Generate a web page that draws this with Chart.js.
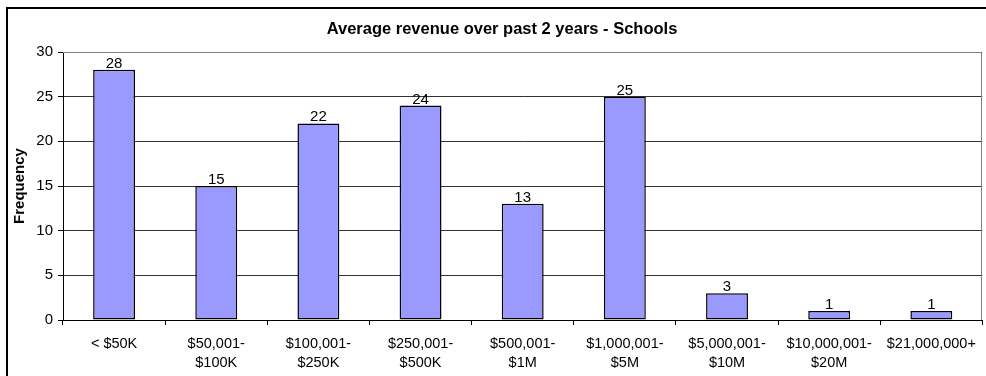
<!DOCTYPE html>
<html>
<head>
<meta charset="utf-8">
<title>Average revenue over past 2 years - Schools</title>
<script src="https://cdn.jsdelivr.net/npm/chart.js@4/dist/chart.umd.min.js"></script>
<style>
  html, body { margin: 0; padding: 0; background: #fff; }
  #wrap { position: relative; width: 986px; height: 376px; overflow: hidden; }
  #wrap canvas { position: absolute; left: 0; top: 0; }
  /* chart-area frame: only the top and left edges fit in the window */
  #frame { position: absolute; left: 6px; top: 7px; width: 1000px; height: 400px;
           border-top: 2px solid #000; border-left: 2px solid #000; pointer-events: none; }
</style>
</head>
<body>
<div id="wrap">
  <canvas id="revChart" width="986" height="376"></canvas>
  <div id="frame"></div>
</div>
<script>
/* ---------- data ---------- */
const revenueBands = [
  ['< $50K'],
  ['$50,001-', '$100K'],
  ['$100,001-', '$250K'],
  ['$250,001-', '$500K'],
  ['$500,001-', '$1M'],
  ['$1,000,001-', '$5M'],
  ['$5,000,001-', '$10M'],
  ['$10,000,001-', '$20M'],
  ['$21,000,000+'],
];
const schoolCounts = [28, 15, 22, 24, 13, 25, 3, 1, 1];
const yMin = 0, yMax = 30, yStep = 5;

const FONT = '"Liberation Sans", Arial, Helvetica, sans-serif';

/* value labels above each bar */
const barValueLabels = {
  id: 'barValueLabels',
  afterDatasetsDraw(chart) {
    const { ctx } = chart;
    const meta = chart.getDatasetMeta(0);
    const values = chart.data.datasets[0].data;
    ctx.save();
    ctx.font = `15px ${FONT}`;
    ctx.fillStyle = '#000';
    ctx.textAlign = 'center';
    ctx.textBaseline = 'alphabetic';
    meta.data.forEach((bar, i) => {
      ctx.fillText(String(values[i]), bar.x, bar.y - 2);
    });
    ctx.restore();
  }
};

/* grey plot-area edges (top and right) */
const plotFrame = {
  id: 'plotFrame',
  beforeDatasetsDraw(chart) {
    const { ctx, chartArea: a } = chart;
    const r = Math.round(a.right) - 0.5, t = Math.round(a.top) + 0.5;
    ctx.save();
    ctx.strokeStyle = '#808080';
    ctx.lineWidth = 1;
    ctx.beginPath();
    ctx.moveTo(a.left, t);
    ctx.lineTo(r, t);
    ctx.lineTo(r, a.bottom);
    ctx.stroke();
    ctx.restore();
  }
};

/* the title sits a little right of the canvas centre */
const titleNudge = {
  id: 'titleNudge',
  afterLayout(chart) {
    if (chart.titleBlock) {
      chart.titleBlock.left += 10;
      chart.titleBlock.right += 10;
    }
  }
};

new Chart(document.getElementById('revChart').getContext('2d'), {
  type: 'bar',
  data: {
    labels: revenueBands,
    datasets: [{
      label: 'Frequency',
      data: schoolCounts,
      backgroundColor: '#9999FF',
      borderColor: '#000',
      borderWidth: 1.5,
      borderSkipped: false,
      categoryPercentage: 0.41,
      barPercentage: 1,
    }],
  },
  options: {
    responsive: false,
    animation: false,
    layout: { padding: { left: 0, right: 2, top: 0, bottom: 0 } },
    plugins: {
      legend: { display: false },
      tooltip: { enabled: false },
      title: {
        display: true,
        text: 'Average revenue over past 2 years - Schools',
        color: '#000',
        font: { family: FONT, size: 16.5, weight: 'bold', lineHeight: 1.2 },
        padding: { top: 20, bottom: 12.2 },
      },
    },
    scales: {
      x: {
        grid: { offset: true, drawOnChartArea: false, tickLength: 5, tickColor: '#000' },
        border: { color: '#000', width: 1 },
        ticks: { color: '#000', padding: 10, autoSkip: false, maxRotation: 0,
                 font: { family: FONT, size: 14.5, lineHeight: 1.27 } },
        afterFit(scale) { scale.height = 56; },
      },
      y: {
        min: yMin, max: yMax,
        ticks: { stepSize: yStep, color: '#000', padding: 5,
                 font: { family: FONT, size: 15 } },
        grid: {
          color: ctx => (ctx.tick && ctx.tick.value === yMax) ? '#808080' : '#333',
          tickLength: 5, tickColor: '#000', lineWidth: 1,
        },
        border: { color: '#000', width: 1 },
        title: {
          display: true, text: 'Frequency', color: '#000',
          font: { family: FONT, size: 15, weight: 'bold', lineHeight: 1.2 },
          padding: { top: 11, bottom: 0 },
        },
        afterFit(scale) { scale.width = 63; },
      },
    },
  },
  plugins: [barValueLabels, plotFrame, titleNudge],
});
</script>
</body>
</html>
